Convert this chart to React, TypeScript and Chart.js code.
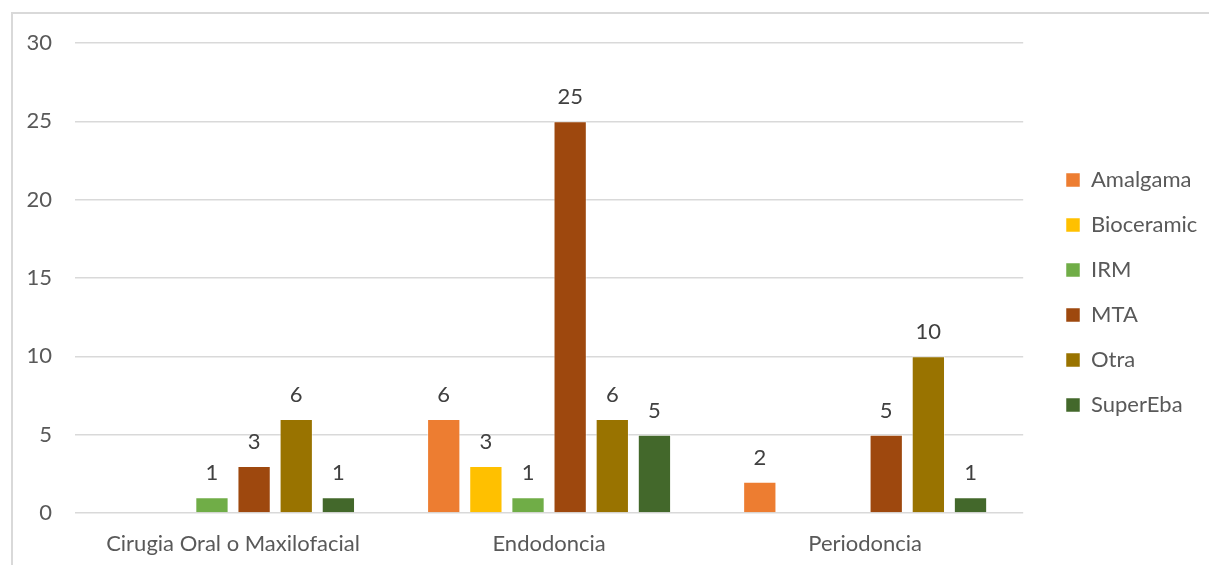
import React, { useEffect, useRef } from "react";
import { Chart, registerables } from "chart.js";

Chart.register(...registerables);

const categories = ["Cirugia Oral o Maxilofacial", "Endodoncia", "Periodoncia"];
const seriesNames = ["Amalgama", "Bioceramic", "IRM", "MTA", "Otra", "SuperEba"];
const amalgama = [null, 6, 2];
const bioceramic = [null, 3, null];
const irm = [1, 1, null];
const mta = [3, 25, 5];
const otra = [6, 6, 10];
const superEba = [1, 5, 1];
const seriesColors = ["#ED7D31", "#FFC000", "#70AD47", "#9E480E", "#997300", "#43682B"];
const yTicks = [0, 5, 10, 15, 20, 25, 30];

const FONT = "Lato, 'Open Sans', sans-serif";

const labelPlugin = {
  id: "valueLabels",
  afterLayout(chart: any) {
    const lg = chart.legend;
    if (lg) {
      const w = lg.right - lg.left;
      lg.left = 1043;
      lg.right = 1043 + w;
      lg.top = 43;
      lg.bottom = 542;
    }
  },
  afterDatasetsDraw(chart: any) {
    const ctx = chart.ctx;
    ctx.save();
    ctx.font = `22px ${FONT}`;
    ctx.fillStyle = "#404040";
    ctx.textAlign = "center";
    ctx.textBaseline = "alphabetic";
    chart.data.datasets.forEach((ds: any, i: number) => {
      const meta = chart.getDatasetMeta(i);
      meta.data.forEach((el: any, j: number) => {
        const v = ds.data[j];
        if (v === null || v === undefined) return;
        ctx.fillText(String(v), el.x, el.y - 17);
      });
    });
    ctx.restore();
  },
};

export default function App() {
  const ref = useRef<HTMLCanvasElement>(null);
  useEffect(() => {
    const all = [amalgama, bioceramic, irm, mta, otra, superEba];
    const chart = new Chart(ref.current!, {
      type: "bar",
      data: {
        labels: categories,
        datasets: seriesNames.map((name, i) => ({
          label: name,
          data: all[i] as any,
          backgroundColor: seriesColors[i],
          borderColor: "rgba(255,255,255,0.5)",
          borderWidth: 1,
          categoryPercentage: 0.8,
          barPercentage: 0.79,
        })),
      },
      options: {
        responsive: false,
        animation: false,
        layout: { padding: { left: 0, top: 43, bottom: 0, right: 21.5 } },
        plugins: {
          tooltip: { enabled: false },
          legend: {
            position: "right",
            labels: {
              boxWidth: 14,
              boxHeight: 14,
              padding: 23,
              color: "#595959",
              font: { family: FONT, size: 22 },
            },
          },
        },
        scales: {
          x: {
            grid: { display: false },
            border: { display: false },
            ticks: { color: "#595959", font: { family: FONT, size: 22 }, padding: 10 },
            afterFit(scale: any) {
              scale.height = 52;
            },
          },
          y: {
            min: 0,
            max: 30,
            afterBuildTicks(scale: any) {
              scale.ticks = yTicks.map((v) => ({ value: v }));
            },
            grid: { color: "#d9d9d9", lineWidth: 1.5, drawTicks: false },
            border: { display: false },
            ticks: { color: "#595959", font: { family: FONT, size: 22 }, padding: 23 },
            afterFit(scale: any) {
              scale.width = 75;
            },
          },
        },
      },
      plugins: [labelPlugin],
    });
    return () => chart.destroy();
  }, []);
  return (
    <div style={{ position: "fixed", left: 0, top: 0, width: 1209, height: 565, background: "#fff", overflow: "hidden" }}>
      <div
        style={{
          position: "absolute",
          left: 11,
          top: 12,
          width: 1300,
          height: 700,
          border: "2px solid #d9d9d9",
          borderRightWidth: 0,
          borderBottomWidth: 0,
        }}
      />
      <canvas ref={ref} width={1209} height={565} style={{ position: "absolute", left: 0, top: 0 }} />
    </div>
  );
}
